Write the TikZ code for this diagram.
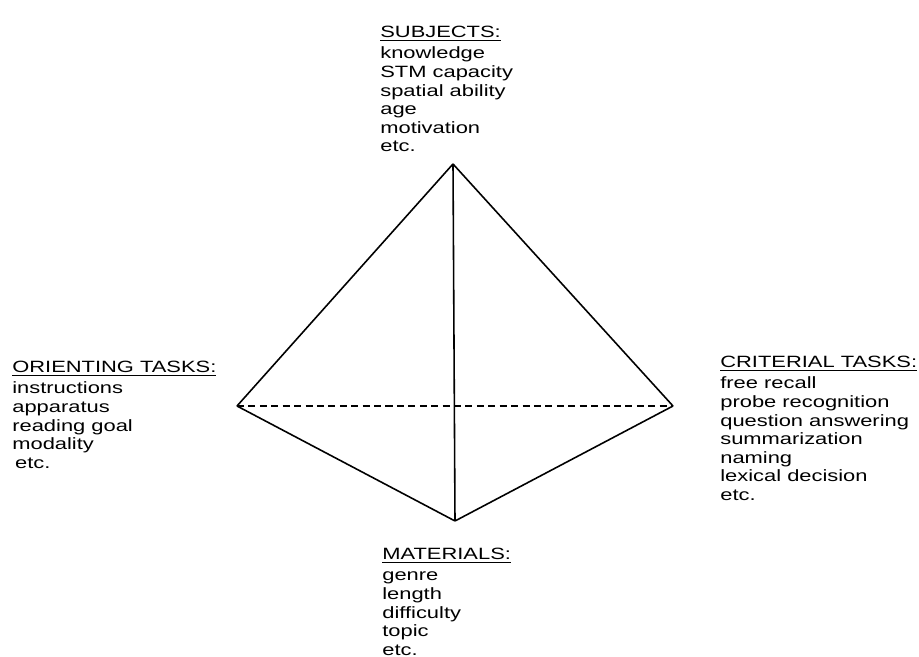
\documentclass[tikz,border=0pt]{standalone}
\usepackage{fontspec}
\setmainfont{Liberation Sans}[FakeStretch=1.34]
\usetikzlibrary{positioning}

\begin{document}
\begin{tikzpicture}[factor/.style={anchor=north west, inner sep=0pt, align=left, font=\fontsize{9.3}{10.6}\selectfont}, edge/.style={line width=0.9pt}]
\useasboundingbox (0,0) rectangle (18.38,13.14);
\coordinate (top) at (9.06,9.86);
\coordinate (left) at (4.74,5.02);
\coordinate (right) at (13.46,5.02);
\coordinate (bottom) at (9.10,2.72);
\node[factor] (subj) at (7.60,12.62) {\underline{SUBJECTS:}\\[1.4pt]knowledge\\STM capacity\\spatial ability\\age\\motivation\\etc.};
\node[factor] (orient) at (0.24,5.92) {\underline{ORIENTING TASKS:}\\[1.4pt]instructions\\apparatus\\reading goal\\modality\\\,etc.};
\node[factor] (crit) at (14.40,6.02) {\underline{CRITERIAL TASKS:}\\[1.4pt]free recall\\probe recognition\\question answering\\summarization\\naming\\lexical decision\\etc.};
\node[factor] (mat) at (7.64,2.18) {\underline{MATERIALS:}\\[1.4pt]genre\\length\\difficulty\\topic\\etc.};
\draw[edge] (top) -- (left);
\draw[edge] (top) -- (right);
\draw[edge] (top) -- (bottom);
\draw[edge] (left) -- (bottom);
\draw[edge] (right) -- (bottom);
\draw[edge, dash pattern=on 4pt off 2.5pt] (left) -- (right);
\end{tikzpicture}
\end{document}
